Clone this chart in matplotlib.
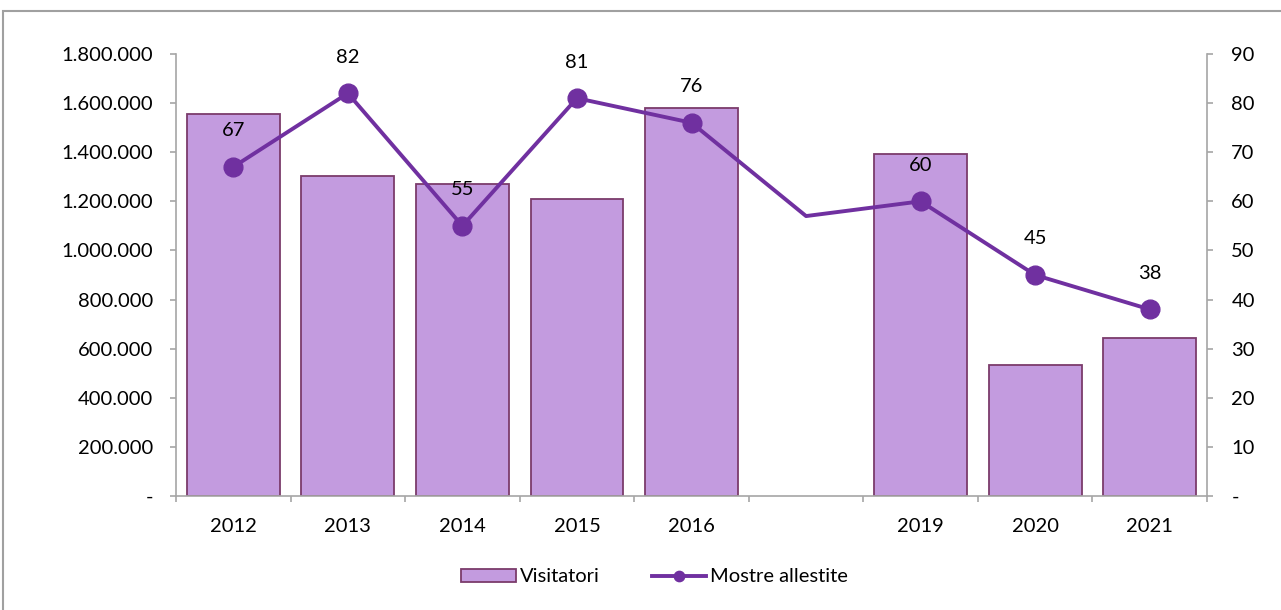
import numpy as np
import matplotlib.pyplot as plt
from matplotlib.patches import Rectangle
from matplotlib.ticker import FuncFormatter

plt.rcParams['font.family'] = ['Lato', 'DejaVu Sans']

# data
anni = ['2012', '2013', '2014', '2015', '2016', '', '2019', '2020', '2021']
visitatori = [1556000, 1303000, 1271000, 1210000, 1580000, np.nan, 1393000, 535000, 643000]
mostre = [67, 82, 55, 81, 76, 57, 60, 45, 38]
mostre_labels = ['67', '82', '55', '81', '76', '', '60', '45', '38']

bar_col = '#C39BDF'
bar_edge = '#7B3B6B'
line_col = '#7030A0'
axis_col = '#A6A6A6'
fs = 14.5

fig = plt.figure(figsize=(12.81, 6.10), dpi=100)
ax = fig.add_axes([176/1281, 1-496/610, (1207-176)/1281, (496-54)/610])
ax2 = ax.twinx()

x = np.arange(len(anni))
bars = ax.bar(x, visitatori, width=0.81, color=bar_col, edgecolor=bar_edge, linewidth=1.3, zorder=2)
ax.set_xlim(-0.5, len(anni)-0.5)
ax.set_ylim(0, 1800000)
ax.set_yticks(np.arange(0, 1800001, 200000))

def fmt_left(v, pos):
    if v == 0:
        return '-'
    return '{:,.0f}'.format(v).replace(',', '.')

ax.yaxis.set_major_formatter(FuncFormatter(fmt_left))

keep = [i for i, l in enumerate(mostre_labels) if l]
line, = ax2.plot(x, mostre, color=line_col, linewidth=2.8, marker='o', markersize=13.5,
                 markevery=keep, zorder=3)
ax2.set_ylim(0, 90)
ax2.set_yticks(np.arange(0, 91, 10))
ax2.yaxis.set_major_formatter(FuncFormatter(lambda v, p: '-' if v == 0 else '{:.0f}'.format(v)))

for i in keep:
    ax2.annotate(mostre_labels[i], (x[i], mostre[i]), xytext=(0, 26), textcoords='offset points',
                 ha='center', va='center', fontsize=fs, color='black')

# axes styling
for a in (ax, ax2):
    for s in a.spines.values():
        s.set_visible(False)
ax.spines['left'].set_visible(True)
ax.spines['bottom'].set_visible(True)
ax2.spines['right'].set_visible(True)
for s in (ax.spines['left'], ax.spines['bottom'], ax2.spines['right']):
    s.set_color(axis_col)
    s.set_linewidth(1.2)

ax.set_xticks(x)
ax.set_xticklabels(anni)
ax.set_xticks(np.arange(-0.5, len(anni), 1), minor=True)
ax.tick_params(axis='x', which='major', length=0, pad=16, labelsize=fs)
ax.tick_params(axis='x', which='minor', length=4.5, color=axis_col, width=1.2)
ax.tick_params(axis='y', length=4.5, color=axis_col, width=1.2, labelsize=fs, pad=12)
ax2.tick_params(axis='y', length=4.5, color=axis_col, width=1.2, labelsize=fs, pad=13)

ax2.set_zorder(ax.get_zorder() + 1)
ax2.patch.set_visible(False)

fig.legend([bars, line], ['Visitatori', 'Mostre allestite'], loc='center',
           bbox_to_anchor=(0.511, 1-577/610), ncol=2, frameon=False, fontsize=fs,
           handlelength=2.7, handleheight=0.65, handletextpad=0.2, columnspacing=2.6,
           markerscale=0.55)

# outer chart frame
fig.patches.append(Rectangle((3/1281, -0.1), 2, 1-11/610+0.1, transform=fig.transFigure,
                             fill=False, edgecolor='#A0A0A0', linewidth=1.5))

plt.savefig('out.png', dpi=100)
